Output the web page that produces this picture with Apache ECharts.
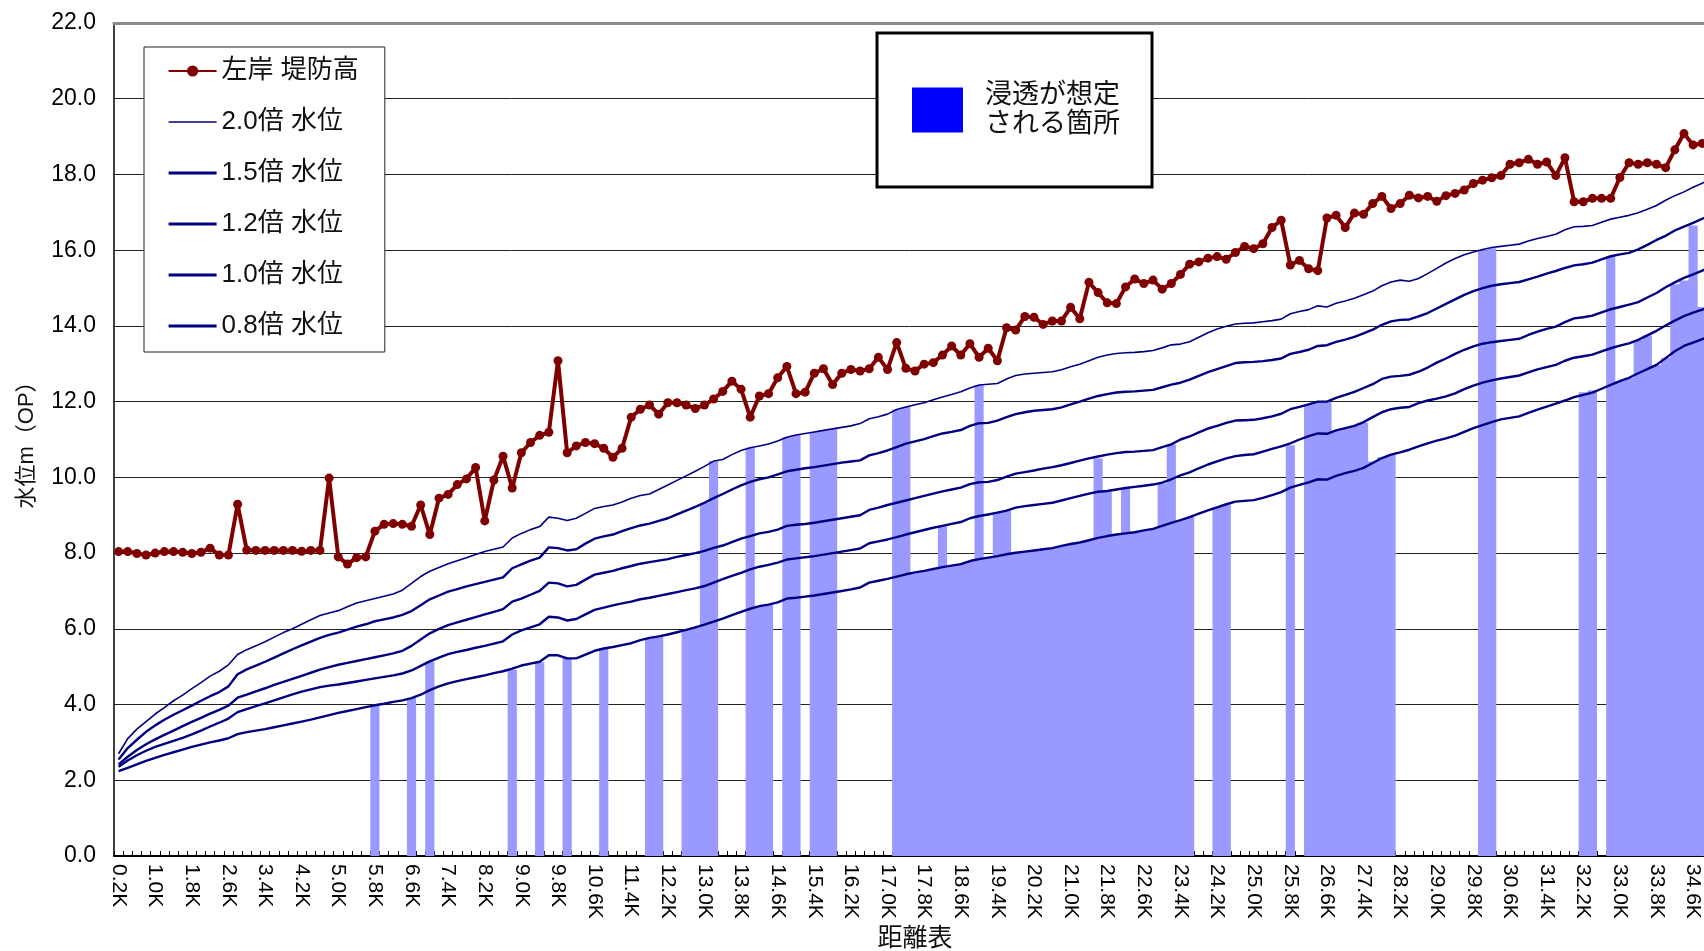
<!DOCTYPE html>
<html>
<head>
<meta charset="utf-8">
<script src="https://cdn.jsdelivr.net/npm/echarts@6/dist/echarts.min.js"></script>
<style>
html,body{margin:0;padding:0;background:#fff;}
#c{width:1704px;height:951px;}
</style>
</head>
<body>
<div id="c"></div>
<script>
// category labels: 0.2K ... 35.0K (every 0.2K)
const categories = [];
for (let k = 1; k <= 175; k++) categories.push((k * 0.2).toFixed(1) + 'K');

const yTicks = [0, 2, 4, 6, 8, 10, 12, 14, 16, 18, 20, 22];

// 左岸 堤防高
const dikeHeight = [
 8.04,8.04,7.99,7.95,8.0,8.04,8.04,8.02,7.99,8.02,
 8.13,7.95,7.95,9.29,8.08,8.07,8.07,8.07,8.07,8.07,
 8.05,8.07,8.07,9.98,7.9,7.71,7.88,7.9,8.58,8.76,
 8.78,8.76,8.71,9.27,8.49,9.45,9.55,9.81,9.96,10.26,
 8.85,9.93,10.56,9.72,10.65,10.92,11.11,11.19,13.08,10.65,
 10.83,10.92,10.89,10.77,10.53,10.77,11.59,11.8,11.91,11.67,
 11.97,11.97,11.91,11.82,11.91,12.07,12.27,12.54,12.33,11.59,
 12.15,12.21,12.63,12.93,12.21,12.25,12.75,12.87,12.45,12.75,
 12.85,12.81,12.87,13.17,12.85,13.56,12.88,12.81,12.99,13.03,
 13.23,13.47,13.23,13.53,13.17,13.41,13.08,13.95,13.89,14.25,
 14.23,14.04,14.13,14.13,14.49,14.19,15.15,14.88,14.61,14.59,
 15.03,15.24,15.12,15.21,14.97,15.12,15.36,15.63,15.69,15.79,
 15.83,15.76,15.94,16.1,16.04,16.17,16.6,16.79,15.61,15.73,
 15.51,15.46,16.85,16.92,16.6,16.98,16.95,17.23,17.42,17.1,
 17.23,17.45,17.38,17.42,17.29,17.44,17.5,17.59,17.76,17.85,
 17.91,17.97,18.27,18.31,18.4,18.27,18.33,17.97,18.44,17.28,
 17.28,17.37,17.37,17.37,17.92,18.31,18.27,18.31,18.27,18.18,
 18.65,19.08,18.78,18.82,18.85
];

// 2.0倍 水位
const level20 = [
 2.7,3.1,3.35,3.55,3.75,3.92,4.1,4.25,4.42,4.58,
 4.75,4.88,5.05,5.32,5.45,5.55,5.66,5.78,5.9,6.0,
 6.12,6.24,6.35,6.42,6.48,6.58,6.68,6.74,6.8,6.86,
 6.92,7.02,7.2,7.38,7.52,7.62,7.72,7.8,7.88,7.96,
 8.04,8.1,8.16,8.4,8.52,8.62,8.7,8.95,8.92,8.86,
 8.92,9.05,9.18,9.23,9.27,9.35,9.45,9.52,9.56,9.68,
 9.8,9.92,10.04,10.16,10.29,10.43,10.47,10.6,10.71,10.78,
 10.83,10.88,10.96,11.06,11.12,11.16,11.2,11.24,11.28,11.32,
 11.36,11.42,11.55,11.6,11.67,11.79,11.86,11.92,11.97,12.05,
 12.12,12.19,12.26,12.36,12.44,12.46,12.48,12.6,12.69,12.73,
 12.75,12.77,12.79,12.84,12.92,12.99,13.08,13.17,13.23,13.27,
 13.29,13.3,13.32,13.35,13.42,13.5,13.52,13.58,13.7,13.82,
 13.92,13.99,14.05,14.07,14.08,14.11,14.14,14.18,14.32,14.38,
 14.43,14.53,14.5,14.6,14.66,14.73,14.82,14.92,15.06,15.16,
 15.21,15.18,15.25,15.38,15.52,15.66,15.78,15.88,15.95,16.02,
 16.07,16.1,16.13,16.16,16.24,16.31,16.36,16.42,16.54,16.62,
 16.63,16.65,16.74,16.82,16.87,16.92,16.99,17.08,17.18,17.32,
 17.44,17.54,17.66,17.77,17.88
];

// 1.5倍 水位
const level15 = [
 2.55,2.85,3.07,3.28,3.45,3.6,3.73,3.85,3.97,4.1,
 4.22,4.33,4.48,4.8,4.93,5.03,5.13,5.24,5.35,5.46,
 5.56,5.66,5.76,5.84,5.9,5.98,6.06,6.12,6.2,6.25,
 6.3,6.37,6.47,6.62,6.78,6.88,6.98,7.05,7.12,7.18,
 7.24,7.3,7.36,7.6,7.7,7.8,7.88,8.15,8.13,8.07,
 8.1,8.25,8.38,8.44,8.49,8.58,8.66,8.73,8.78,8.85,
 8.92,9.02,9.12,9.22,9.33,9.45,9.56,9.68,9.79,9.88,
 9.95,10.0,10.08,10.16,10.2,10.24,10.27,10.31,10.35,10.39,
 10.42,10.45,10.58,10.64,10.71,10.8,10.89,10.95,11.01,11.09,
 11.16,11.2,11.25,11.36,11.43,11.44,11.5,11.59,11.67,11.72,
 11.76,11.78,11.8,11.85,11.93,12.0,12.08,12.15,12.2,12.24,
 12.26,12.27,12.29,12.31,12.38,12.45,12.5,12.58,12.68,12.78,
 12.86,12.94,13.02,13.04,13.05,13.07,13.1,13.14,13.26,13.31,
 13.37,13.47,13.49,13.58,13.64,13.71,13.8,13.9,14.03,14.12,
 14.16,14.17,14.25,14.34,14.46,14.58,14.7,14.82,14.92,15.0,
 15.06,15.1,15.13,15.16,15.23,15.3,15.38,15.45,15.53,15.6,
 15.63,15.67,15.76,15.84,15.89,15.93,16.02,16.14,16.27,16.38,
 16.52,16.62,16.72,16.83,16.93
];

// 1.2倍 水位
const level12 = [
 2.42,2.62,2.8,2.95,3.08,3.2,3.31,3.43,3.54,3.65,
 3.76,3.86,3.97,4.18,4.26,4.35,4.43,4.52,4.6,4.68,
 4.76,4.84,4.92,4.99,5.05,5.1,5.15,5.2,5.25,5.3,
 5.35,5.42,5.55,5.72,5.88,6.0,6.1,6.17,6.24,6.31,
 6.38,6.45,6.52,6.72,6.8,6.9,7.0,7.22,7.2,7.12,
 7.16,7.3,7.43,7.48,7.53,7.6,7.66,7.72,7.76,7.8,
 7.84,7.9,7.95,8.0,8.06,8.14,8.2,8.29,8.38,8.45,
 8.52,8.56,8.62,8.72,8.75,8.77,8.8,8.84,8.88,8.92,
 8.96,9.0,9.14,9.2,9.27,9.33,9.39,9.45,9.51,9.57,
 9.63,9.68,9.73,9.82,9.87,9.88,9.93,10.02,10.1,10.14,
 10.18,10.23,10.27,10.32,10.38,10.44,10.5,10.55,10.6,10.64,
 10.67,10.68,10.7,10.72,10.8,10.87,11.0,11.08,11.19,11.29,
 11.36,11.44,11.5,11.51,11.52,11.56,11.61,11.68,11.8,11.86,
 11.93,12.0,12.0,12.1,12.18,12.26,12.36,12.46,12.6,12.66,
 12.68,12.71,12.79,12.9,13.03,13.14,13.26,13.37,13.46,13.53,
 13.57,13.6,13.63,13.66,13.76,13.85,13.92,13.98,14.1,14.2,
 14.23,14.27,14.36,14.44,14.5,14.56,14.63,14.75,14.87,15.02,
 15.15,15.27,15.36,15.46,15.56
];

// 1.0倍 水位
const level10 = [
 2.36,2.52,2.66,2.78,2.88,2.96,3.04,3.12,3.21,3.31,
 3.42,3.52,3.63,3.8,3.88,3.96,4.03,4.11,4.19,4.27,
 4.34,4.4,4.46,4.5,4.53,4.57,4.61,4.65,4.69,4.73,
 4.77,4.82,4.9,5.02,5.14,5.24,5.33,5.39,5.44,5.5,
 5.55,5.61,5.67,5.85,5.96,6.04,6.12,6.32,6.3,6.22,
 6.26,6.38,6.5,6.56,6.62,6.67,6.72,6.78,6.82,6.87,
 6.92,6.97,7.02,7.07,7.13,7.22,7.31,7.4,7.48,7.57,
 7.64,7.69,7.75,7.83,7.86,7.89,7.92,7.96,8.0,8.04,
 8.08,8.12,8.26,8.31,8.36,8.42,8.49,8.55,8.61,8.67,
 8.72,8.77,8.82,8.92,8.98,9.02,9.07,9.12,9.2,9.24,
 9.27,9.3,9.33,9.39,9.45,9.51,9.57,9.62,9.64,9.68,
 9.72,9.75,9.78,9.81,9.86,9.95,10.05,10.13,10.24,10.34,
 10.42,10.5,10.56,10.59,10.61,10.68,10.75,10.82,10.9,11.0,
 11.09,11.16,11.15,11.24,11.3,11.36,11.46,11.59,11.72,11.8,
 11.84,11.86,11.96,12.03,12.08,12.14,12.22,12.33,12.42,12.5,
 12.56,12.61,12.65,12.69,12.77,12.85,12.91,12.97,13.08,13.16,
 13.2,13.24,13.33,13.41,13.48,13.54,13.63,13.75,13.87,14.01,
 14.14,14.26,14.35,14.43,14.52
];

// 0.8倍 水位
const level08 = [
 2.24,2.33,2.42,2.51,2.59,2.67,2.74,2.81,2.88,2.94,
 3.0,3.05,3.11,3.22,3.27,3.31,3.35,3.4,3.45,3.5,
 3.55,3.6,3.66,3.72,3.78,3.83,3.88,3.93,3.98,4.02,
 4.07,4.11,4.17,4.26,4.38,4.48,4.56,4.62,4.67,4.72,
 4.77,4.83,4.88,4.95,5.03,5.08,5.13,5.3,5.3,5.22,
 5.22,5.32,5.42,5.48,5.52,5.57,5.62,5.7,5.76,5.8,
 5.85,5.91,5.97,6.04,6.11,6.19,6.27,6.36,6.45,6.53,
 6.6,6.64,6.7,6.8,6.82,6.85,6.88,6.92,6.96,7.0,
 7.04,7.09,7.22,7.27,7.32,7.38,7.44,7.49,7.53,7.58,
 7.63,7.67,7.71,7.79,7.84,7.88,7.92,7.97,8.01,8.04,
 8.07,8.1,8.13,8.19,8.24,8.28,8.34,8.4,8.45,8.49,
 8.52,8.55,8.6,8.64,8.72,8.8,8.87,8.95,9.04,9.13,
 9.21,9.29,9.36,9.38,9.4,9.46,9.53,9.61,9.73,9.8,
 9.87,9.95,9.94,10.04,10.11,10.17,10.25,10.38,10.51,10.6,
 10.66,10.73,10.82,10.9,10.97,11.03,11.1,11.2,11.3,11.38,
 11.46,11.53,11.57,11.61,11.7,11.79,11.87,11.95,12.03,12.12,
 12.18,12.24,12.34,12.44,12.54,12.63,12.75,12.86,12.97,13.15,
 13.33,13.47,13.56,13.65,13.74
];

// 浸透が想定される箇所 (bar heights; null = none)
const seepage = [
 null,null,null,null,null,null,null,null,null,null,
 null,null,null,null,null,null,null,null,null,null,
 null,null,null,null,null,null,null,null,3.98,null,
 null,null,4.17,null,5.14,null,null,null,null,null,
 null,null,null,4.92,null,null,5.12,null,null,5.22,
 null,null,null,5.48,null,null,null,null,5.76,5.8,
 null,null,5.97,6.04,9.33,10.43,null,null,null,10.78,
 6.6,6.64,null,11.06,11.12,null,11.2,11.24,11.28,null,
 null,null,null,null,null,11.79,11.86,7.49,7.53,7.58,
 8.72,7.67,7.71,7.79,12.44,7.88,9.07,9.12,8.01,8.04,
 8.07,8.1,8.13,8.19,8.24,8.28,8.34,10.5,9.62,8.49,
 9.72,8.55,8.6,8.64,9.84,10.86,8.87,8.95,null,null,
 9.21,9.29,null,null,null,null,null,null,10.85,null,
 11.93,12.0,12.0,11.24,11.3,11.36,11.44,10.42,10.53,10.6,
 null,null,null,null,null,null,null,null,null,16.0,
 16.05,null,null,null,null,null,null,null,null,null,
 12.25,12.3,null,15.84,12.54,12.63,13.63,13.75,12.97,13.15,
 15.1,15.2,16.65,14.5,14.6
];

const FONT = "'Liberation Sans','Noto Sans CJK JP',sans-serif";
const NAVY = '#000080';
const RED = '#800000';
const SEEP_COLOR = '#9999ff';
const SEEP_NAME = '浸透が想定される箇所';
const DIKE_NAME = '左岸 堤防高';
const waterNames = ['2.0倍 水位', '1.5倍 水位', '1.2倍 水位', '1.0倍 水位', '0.8倍 水位'];
const waterData = [level20, level15, level12, level10, level08];
const waterWidth = [1.6, 2.4, 2.4, 2.4, 2.4];
const legendWidth = [1.6, 3.2, 3.2, 3.2, 3.2];

const legendLines = [{ name: DIKE_NAME }].concat(
  waterNames.map(function (n, k) {
    return { name: n, itemStyle: { opacity: 0 }, lineStyle: { width: legendWidth[k] } };
  })
);

const series = [{
  name: SEEP_NAME, type: 'bar', data: seepage, barCategoryGap: '0%', barGap: '0%',
  large: true, largeThreshold: 1,
  itemStyle: { color: SEEP_COLOR }, z: 2
}];
waterNames.forEach(function (n, k) {
  series.push({
    name: n, type: 'line', data: waterData[k], symbol: 'none', smooth: false,
    lineStyle: { color: NAVY, width: waterWidth[k] }, itemStyle: { color: NAVY }, z: 3
  });
});
series.push({
  name: DIKE_NAME, type: 'line', data: dikeHeight,
  symbol: 'circle', symbolSize: 9, showSymbol: true, showAllSymbol: true,
  lineStyle: { color: RED, width: 4 },
  itemStyle: { color: RED }, z: 4
});

const chart = echarts.init(document.getElementById('c'), null, { renderer: 'canvas' });
chart.setOption({
  animation: false,
  backgroundColor: '#ffffff',
  textStyle: { fontFamily: FONT },
  grid: { left: 114, top: 23, width: 1602, height: 833, containLabel: false, outerBoundsMode: 'none' },
  legend: [
    {
      data: legendLines,
      orient: 'vertical',
      left: 144, top: 47,
      padding: [10, 26, 12, 23],
      itemGap: 23,
      itemWidth: 48, itemHeight: 14,
      backgroundColor: '#ffffff',
      borderColor: '#222', borderWidth: 1,
      textStyle: { fontFamily: FONT, fontSize: 26, lineHeight: 28, color: '#111' },
      z: 10
    },
    {
      data: [{ name: SEEP_NAME, icon: 'rect', itemStyle: { color: '#0000ff', borderWidth: 0, borderColor: '#0000ff' } }],
      left: 877, top: 33,
      padding: [48, 32, 48, 35],
      itemWidth: 51, itemHeight: 45,
      backgroundColor: '#ffffff',
      borderColor: '#000', borderWidth: 3,
      formatter: function () { return '浸透が想定\nされる箇所'; },
      textStyle: { fontFamily: FONT, fontSize: 27, lineHeight: 29, color: '#111', padding: [0, 0, 0, 17] },
      z: 10
    }
  ],
  xAxis: [
    {
      type: 'category', data: categories, boundaryGap: true,
      axisLine: { lineStyle: { color: '#000', width: 2 } },
      axisTick: { show: true, inside: true, interval: 0, length: 5, lineStyle: { color: '#000', width: 1 } },
      axisLabel: { interval: 3, rotate: -90, fontSize: 21, color: '#000', margin: 8, fontFamily: FONT },
      splitLine: { show: false },
      name: '距離表', nameLocation: 'middle', nameGap: 68,
      nameTextStyle: { fontSize: 25, color: '#111', fontFamily: FONT }
    },
    {
      type: 'category', data: categories, position: 'top', boundaryGap: true,
      axisLine: { lineStyle: { color: '#8a8a8a', width: 3 } },
      axisTick: { show: false }, axisLabel: { show: false }, splitLine: { show: false }
    }
  ],
  yAxis: {
    type: 'value', min: yTicks[0], max: yTicks[yTicks.length - 1], interval: 2,
    axisLine: { show: true, lineStyle: { color: '#000', width: 1.5 } },
    axisTick: { show: false },
    axisLabel: { formatter: function (v) { return v.toFixed(1); }, fontSize: 23, color: '#000', margin: 18, fontFamily: FONT },
    splitLine: { show: true, lineStyle: { color: '#222', width: 1 } },
    name: '水位m（OP）', nameLocation: 'middle', nameGap: 76,
    nameTextStyle: { fontSize: 22, color: '#111', fontFamily: FONT }
  },
  series: series
});
</script>
</body>
</html>
